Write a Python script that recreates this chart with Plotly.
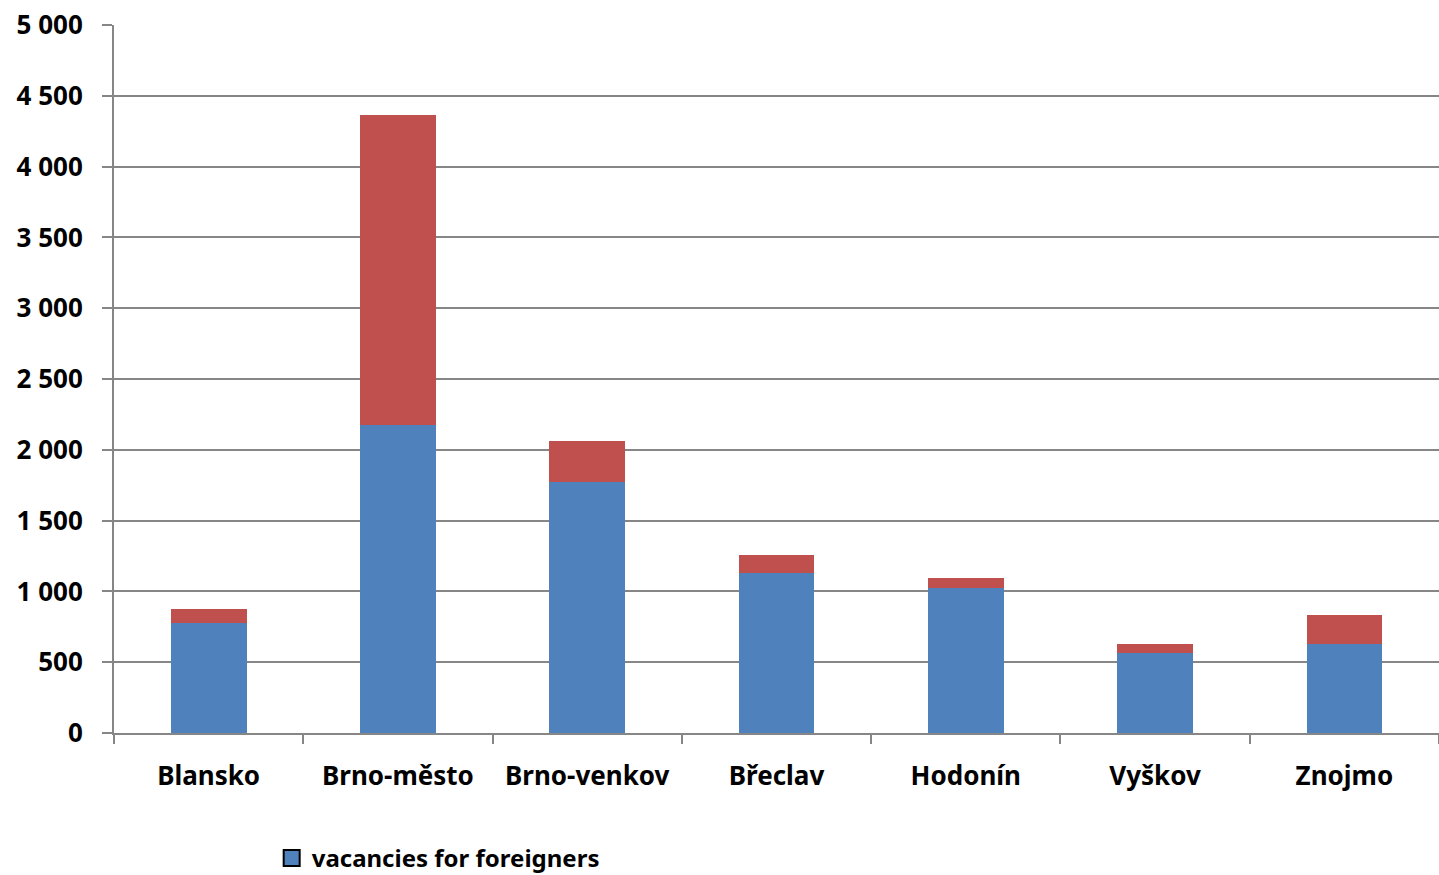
import plotly.graph_objects as go

districts = ["Blansko", "Brno-město", "Brno-venkov", "Břeclav", "Hodonín", "Vyškov", "Znojmo"]
vacancies_foreigners = [777, 2175, 1773, 1130, 1024, 565, 629]
other_vacancies = [99, 2189, 289, 127, 71, 64, 204]

BLUE = "#4F81BD"
RED = "#C0504D"
GRID = "#868686"
FONT = dict(family="Noto Sans", size=26, color="#000000", weight="bold")

fig = go.Figure()
fig.add_trace(go.Bar(x=districts, y=vacancies_foreigners, name="vacancies for foreigners",
                     marker=dict(color=BLUE, line=dict(width=0)), showlegend=False,
                     legendgroup="vf"))
fig.add_trace(go.Bar(x=districts, y=other_vacancies, name="other vacancies",
                     marker=dict(color=RED, line=dict(width=0)), showlegend=False))
# legend key only (no data points)
fig.add_trace(go.Scatter(x=[None], y=[None], mode="markers", name="vacancies for foreigners",
                         legendgroup="vf", showlegend=True,
                         marker=dict(symbol="square", size=30, color=BLUE,
                                     line=dict(color="#000000", width=2))))

fig.update_layout(
    barmode="stack",
    bargap=0.6,
    width=1439, height=875,
    margin=dict(l=114, r=0, t=25, b=142),
    paper_bgcolor="white", plot_bgcolor="white",
    font=FONT,
    separators=". ",
    showlegend=True,
    legend=dict(orientation="h", x=0.119, xanchor="left", yref="container", y=0.019,
                yanchor="middle", itemsizing="trace",
                font=dict(family="Noto Sans", size=24, color="#000000", weight="bold")),
    xaxis=dict(showline=True, linecolor=GRID, linewidth=2, ticks="outside", tickson="boundaries",
               ticklen=9, tickcolor=GRID, tickwidth=2, showgrid=False, automargin=False,
               tickfont=FONT, ticklabelstandoff=19),
    yaxis=dict(range=[0, 5000], dtick=500, tickformat=",d", showline=True, linecolor=GRID,
               linewidth=2, ticks="outside", ticklen=10, tickcolor=GRID, tickwidth=2,
               showgrid=True, gridcolor=GRID, gridwidth=2, zeroline=False, automargin=False,
               ticklabeloverflow="allow",
               tickfont=FONT, ticklabelstandoff=14),
)

fig.write_html("out.html", config={"displayModeBar": False},
               post_script="document.body.style.margin='0';document.body.style.overflow='hidden';")
